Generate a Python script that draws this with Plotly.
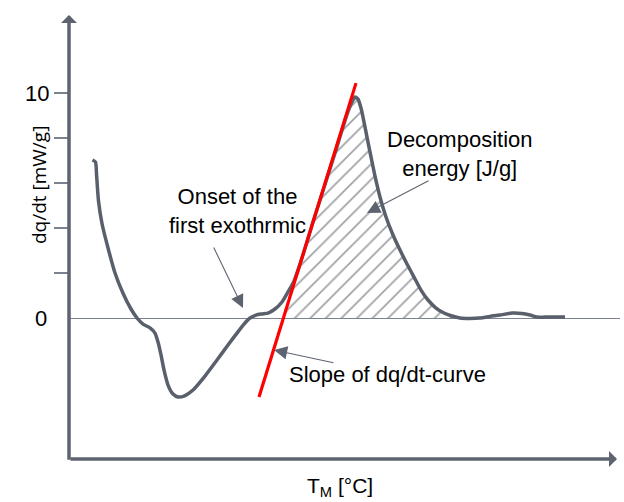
import plotly.graph_objects as go

# Measured curve dq/dt vs temperature (arbitrary T units)
T = [4.7, 5.3, 5.5, 5.9, 6.6, 7.7, 9.2, 10.8, 12.4, 13.6, 14.8, 16.2, 17.2, 17.8, 18.4,
     19.0, 19.8, 20.8, 21.8, 23.0, 24.8, 27.2, 29.6, 31.8, 33.6, 35.0, 36.2, 37.4, 38.6, 39.8,
     41.2, 42.6, 43.8, 45.0, 46.2, 47.4, 48.6, 50.2, 51.8, 53.4, 54.8, 56.0, 56.8, 57.2, 57.8,
     58.4, 59.0, 59.6, 60.4, 61.2, 62.2, 63.4, 64.8, 66.2, 67.6, 69.0, 70.4, 71.8, 73.4, 75.0,
     76.6, 78.2, 80.2, 82.2, 84.2, 86.2, 88.6, 90.6, 92.2, 93.6, 95.2, 99.2]
DQDT = [7.02, 6.93, 6.40, 5.20, 4.20, 3.20, 2.00, 1.10, 0.40, 0.0, -0.27, -0.44, -0.67,
        -1.07, -1.64, -2.31, -2.98, -3.38, -3.51, -3.47, -3.20, -2.58, -1.87, -1.20, -0.67,
        -0.27, 0.0, 0.13, 0.18, 0.22, 0.40, 0.71, 1.16, 1.64, 2.40, 3.24, 4.13, 5.24, 6.36,
        7.47, 8.49, 9.29, 9.69, 9.82, 9.73, 9.33, 8.71, 8.04, 7.16, 6.31, 5.38, 4.49, 3.69,
        3.02, 2.40, 1.82, 1.24, 0.80, 0.44, 0.22, 0.09, 0.0, -0.02, 0.0, 0.07, 0.13, 0.22,
        0.20, 0.13, 0.04, 0.04, 0.04]

# Tangent (slope) line end points
SLOPE_T = [38.0, 57.4]
SLOPE_Y = [-3.51, 10.44]

# Hatched decomposition energy region: start on the tangent at zero, end where curve returns to zero
HATCH_START = (42.9, 0.0)
HATCH_TOP = (56.5, 9.82)
PEAK_T = 57.2
HATCH_END_T = 78.2

Y_TICKS = [2, 4, 6, 8, 10]
Y_TICK_TEXT = ["", "", "", "", "10"]
ZERO_LABEL = "0"

AX_COL = "#5d6470"
CURVE_COL = "#5a606b"
FONT = "Liberation Sans, Arial, sans-serif"

X_MAX = 110.2
Y_MIN, Y_MAX = -6.267, 13.467

# hatch polygon from data
hx = [HATCH_START[0], HATCH_TOP[0]]
hy = [HATCH_START[1], HATCH_TOP[1]]
for t, v in zip(T, DQDT):
    if PEAK_T <= t <= HATCH_END_T:
        hx.append(t)
        hy.append(max(v, 0))
hx.append(HATCH_START[0])
hy.append(0.0)

fig = go.Figure()
fig.add_trace(go.Scatter(
    x=hx, y=hy, mode="lines", fill="toself", line=dict(width=0),
    fillcolor="rgba(0,0,0,0)",
    fillpattern=dict(shape="/", fgcolor="#40454e", bgcolor="rgba(255,255,255,0)",
                     size=11, solidity=0.16),
    hoverinfo="skip", showlegend=False))
fig.add_trace(go.Scatter(
    x=T, y=DQDT, mode="lines", line=dict(color=CURVE_COL, width=3.5, shape="spline", smoothing=0.6),
    showlegend=False))
fig.add_trace(go.Scatter(
    x=SLOPE_T, y=SLOPE_Y, mode="lines", line=dict(color="#ff0000", width=3.2),
    showlegend=False, cliponaxis=False))

ann = []
# axis arrows
ann.append(dict(x=0, y=Y_MAX, ax=0, ay=Y_MIN - 0.1, xref="x", yref="y", axref="x", ayref="y",
                showarrow=True, arrowhead=1, arrowwidth=3.5, arrowsize=0.76, arrowcolor=AX_COL, text=""))
ann.append(dict(x=109.6, y=Y_MIN, ax=0, ay=Y_MIN, xref="x", yref="y", axref="x", ayref="y",
                showarrow=True, arrowhead=1, arrowwidth=3.5, arrowsize=0.76, arrowcolor=AX_COL, text=""))
# pointer arrows
for (hx_, hy_, tx, ty) in [(34.8, 0.44, 28.8, 3.2), (59.6, 4.67, 72.2, 6.13), (41.0, -1.42, 53.2, -2.0)]:
    ann.append(dict(x=hx_, y=hy_, ax=tx, ay=ty, xref="x", yref="y", axref="x", ayref="y",
                    showarrow=True, arrowhead=2, arrowwidth=1.1, arrowsize=2.4, arrowcolor=AX_COL, text=""))
# texts
tf = dict(family=FONT, size=22, color="#000000")
ann.append(dict(x=33.6, y=4.76, xref="x", yref="y", text="Onset of the<br>first exothrmic",
                showarrow=False, font=tf, align="center"))
ann.append(dict(x=78.2, y=7.29, xref="x", yref="y", text="Decomposition<br>energy [J/g]",
                showarrow=False, font=tf, align="center"))
ann.append(dict(x=63.6, y=-2.53, xref="x", yref="y", text="Slope of dq/dt-curve",
                showarrow=False, font=tf, align="center"))
ann.append(dict(x=-0.0363, y=0, xref="paper", yref="y", text=ZERO_LABEL, xanchor="right",
                showarrow=False, font=tf))
ann.append(dict(x=54.2, y=-0.062, xref="x", yref="paper", text="T<sub>M</sub> [°C]",
                showarrow=False, font=dict(family=FONT, size=21, color="#000000"), yanchor="middle"))
ann.append(dict(x=-0.0817, y=0.617, xref="paper", yref="paper", text="dq/dt [mW/g]",
                showarrow=False, font=dict(family="Open Sans, sans-serif", size=19, color="#000000"),
                textangle=-90))

fig.update_layout(
    width=624, height=502, margin=dict(l=69, r=4, t=15, b=43),
    paper_bgcolor="white", plot_bgcolor="white",
    annotations=ann,
    xaxis=dict(range=[0, X_MAX], showgrid=False, zeroline=False, showline=False,
               showticklabels=False, ticks=""),
    yaxis=dict(range=[Y_MIN, Y_MAX], showgrid=False, zeroline=True, zerolinecolor="#7a8290",
               zerolinewidth=1, showline=False, tickvals=Y_TICKS, ticktext=Y_TICK_TEXT,
               ticks="outside", ticklen=14, tickwidth=1.5, tickcolor="#7a8290",
               tickfont=tf),
)
fig.write_html("out.html")
